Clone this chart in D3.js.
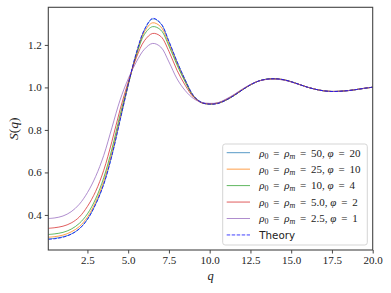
<!DOCTYPE html>
<html>
<head>
<meta charset="utf-8">
<script src="https://cdnjs.cloudflare.com/ajax/libs/d3/7.8.5/d3.min.js"></script>
<style>
    body { margin: 0; background: #fff; }
    svg { display: block; }
</style>
</head>
<body>
<svg id="canvas"></svg>
<script>
let qValues = [0.1, 0.5, 1.0, 1.5, 2.0, 2.5, 3.0, 3.5, 4.0, 4.5, 5.0, 5.5, 6.0, 6.5, 7.0, 7.5, 8.0, 8.5, 9.0, 9.5, 10.0,
    10.5, 11.0, 11.5, 12.0, 12.5, 13.0, 13.5, 14.0, 14.5, 15.0, 15.5, 16.0, 16.5, 17.0, 17.5, 18.0, 18.5, 19.0, 19.5, 20.0]

let s50 = [0.287, 0.290, 0.297, 0.310, 0.335, 0.380, 0.450, 0.545, 0.680, 0.845, 1.010, 1.160, 1.270, 1.322, 1.300, 1.215, 1.120, 1.035, 0.962, 0.930, 0.922,
    0.925, 0.940, 0.962, 0.988, 1.012, 1.030, 1.039, 1.041, 1.037, 1.027, 1.014, 1.001, 0.991, 0.984, 0.981, 0.982, 0.985, 0.990, 0.996, 1.001]
let s25 = [0.295, 0.298, 0.305, 0.320, 0.345, 0.390, 0.460, 0.558, 0.693, 0.855, 1.012, 1.155, 1.262, 1.304, 1.285, 1.205, 1.113, 1.030, 0.960, 0.929, 0.922,
    0.925, 0.940, 0.962, 0.988, 1.012, 1.030, 1.039, 1.041, 1.037, 1.027, 1.014, 1.001, 0.991, 0.984, 0.981, 0.982, 0.985, 0.990, 0.996, 1.001]
let s10 = [0.308, 0.311, 0.318, 0.333, 0.360, 0.405, 0.475, 0.575, 0.710, 0.870, 1.015, 1.150, 1.250, 1.286, 1.270, 1.195, 1.105, 1.025, 0.958, 0.928, 0.922,
    0.926, 0.941, 0.963, 0.989, 1.012, 1.030, 1.039, 1.040, 1.036, 1.027, 1.014, 1.001, 0.991, 0.984, 0.981, 0.982, 0.985, 0.990, 0.996, 1.001]
let s5 = [0.337, 0.340, 0.347, 0.362, 0.390, 0.440, 0.510, 0.610, 0.745, 0.895, 1.025, 1.140, 1.220, 1.254, 1.240, 1.170, 1.080, 1.010, 0.955, 0.928, 0.923,
    0.927, 0.943, 0.965, 0.990, 1.013, 1.030, 1.038, 1.040, 1.036, 1.026, 1.014, 1.001, 0.991, 0.984, 0.981, 0.982, 0.985, 0.990, 0.996, 1.001]
let s25b = [0.383, 0.386, 0.395, 0.415, 0.450, 0.505, 0.580, 0.680, 0.810, 0.940, 1.040, 1.120, 1.180, 1.207, 1.190, 1.120, 1.040, 0.985, 0.948, 0.930, 0.925,
    0.928, 0.945, 0.967, 0.992, 1.014, 1.030, 1.038, 1.039, 1.035, 1.026, 1.013, 1.001, 0.991, 0.984, 0.981, 0.982, 0.985, 0.990, 0.996, 1.001]
let theory = [0.285, 0.288, 0.295, 0.309, 0.334, 0.379, 0.449, 0.544, 0.679, 0.845, 1.012, 1.163, 1.273, 1.325, 1.302, 1.217, 1.121, 1.035, 0.962, 0.929, 0.921,
    0.924, 0.940, 0.962, 0.988, 1.012, 1.030, 1.039, 1.041, 1.037, 1.027, 1.014, 1.001, 0.991, 0.984, 0.981, 0.982, 0.985, 0.990, 0.996, 1.001]

let xTicks = [2.5, 5.0, 7.5, 10.0, 12.5, 15.0, 17.5, 20.0]
let yTicks = [0.4, 0.6, 0.8, 1.0, 1.2]

// legend labels: [rho, phi]
let seriesLabels = [["50", "20"], ["25", "10"], ["10", "4"], ["5.0", "2"], ["2.5", "1"]]
let seriesColors = ["#1f77b4", "#ff7f0e", "#2ca02c", "#d62728", "#9467bd"]
let seriesValues = [s50, s25, s10, s5, s25b]

let width = 391
let height = 293
let plotLeft = 48.3, plotRight = 372.7, plotTop = 7.3, plotBottom = 250

let canvas = d3.select("#canvas")
    .attr("width", width)
    .attr("height", height)

let xScale = d3.scaleLinear().domain([0.1, 20]).range([plotLeft, plotRight])
let yScale = d3.scaleLinear().domain([0.235, 1.377]).range([plotBottom, plotTop])

let serif = "'Liberation Serif', 'DejaVu Serif', serif"

let line = d3.line()
    .x((d) => xScale(d[0]))
    .y((d) => yScale(d[1]))
    .curve(d3.curveCatmullRom.alpha(0.5))

let plot = canvas.append("g")

seriesValues.forEach((vals, i) => {
    plot.append("path")
        .datum(qValues.map((q, j) => [q, vals[j]]))
        .attr("d", line)
        .attr("fill", "none")
        .attr("stroke", seriesColors[i])
        .attr("stroke-opacity", 0.75)
        .attr("stroke-width", 1)
})

plot.append("path")
    .datum(qValues.map((q, j) => [q, theory[j]]))
    .attr("d", line)
    .attr("fill", "none")
    .attr("stroke", "#0000ff")
    .attr("stroke-opacity", 0.75)
    .attr("stroke-width", 1)
    .attr("stroke-dasharray", "3.5,1.5")

// axes
let xAxis = d3.axisBottom(xScale).tickValues(xTicks).tickFormat(d3.format(".1f")).tickSize(3.5).tickPadding(3)
let yAxis = d3.axisLeft(yScale).tickValues(yTicks).tickFormat(d3.format(".1f")).tickSize(3.5).tickPadding(3)

let gx = canvas.append("g")
    .attr("transform", "translate(0," + plotBottom + ")")
    .call(xAxis)
let gy = canvas.append("g")
    .attr("transform", "translate(" + plotLeft + ",0)")
    .call(yAxis)

;[gx, gy].forEach((g) => {
    g.select(".domain").remove()
    g.selectAll("line").attr("stroke", "#333").attr("stroke-width", 0.9)
    g.selectAll("text")
        .attr("font-family", serif)
        .attr("font-size", "11px")
        .attr("fill", "#222")
})

// frame
canvas.append("rect")
    .attr("x", plotLeft)
    .attr("y", plotTop)
    .attr("width", plotRight - plotLeft)
    .attr("height", plotBottom - plotTop)
    .attr("fill", "none")
    .attr("stroke", "#444")
    .attr("stroke-width", 1.1)

// axis labels
canvas.append("text")
    .attr("x", (plotLeft + plotRight) / 2)
    .attr("y", 280)
    .attr("text-anchor", "middle")
    .attr("font-family", serif)
    .attr("font-style", "italic")
    .attr("font-size", "12.5px")
    .attr("fill", "#222")
    .text("q")

let yLabel = canvas.append("text")
    .attr("transform", "translate(17.5," + ((plotTop + plotBottom) / 2) + ") rotate(-90)")
    .attr("text-anchor", "middle")
    .attr("font-family", serif)
    .attr("font-size", "13.5px")
    .attr("fill", "#222")
yLabel.append("tspan").attr("font-style", "italic").text("S")
yLabel.append("tspan").text("(")
yLabel.append("tspan").attr("font-style", "italic").text("q")
yLabel.append("tspan").text(")")

// legend
let legend = canvas.append("g")

legend.append("rect")
    .attr("x", 222.7)
    .attr("y", 144)
    .attr("width", 144.6)
    .attr("height", 101)
    .attr("rx", 2.5)
    .attr("fill", "#fff")
    .attr("fill-opacity", 0.8)
    .attr("stroke", "#d0d0d0")
    .attr("stroke-width", 0.9)

let rowY = (i) => 152.7 + i * 16.45

seriesLabels.forEach((lab, i) => {
    let y = rowY(i)
    legend.append("line")
        .attr("x1", 226.7).attr("x2", 250)
        .attr("y1", y).attr("y2", y)
        .attr("stroke", seriesColors[i])
        .attr("stroke-opacity", 0.75)
        .attr("stroke-width", 1)

    let t = legend.append("text")
        .attr("x", 259.3)
        .attr("y", y + 3.8)
        .attr("font-family", serif)
        .attr("font-size", "11px")
        .attr("fill", "#222")
    t.append("tspan").attr("font-style", "italic").text("ρ")
    t.append("tspan").attr("font-size", "8px").attr("dy", 2).text("0")
    t.append("tspan").attr("dy", -2).attr("dx", 2).text(" = ")
    t.append("tspan").attr("dx", 2).attr("font-style", "italic").text("ρ")
    t.append("tspan").attr("font-size", "8px").attr("font-style", "italic").attr("dy", 2).text("m")
    t.append("tspan").attr("dy", -2).attr("dx", 2).text(" = ")
    t.append("tspan").attr("dx", 2).text(lab[0] + ", ")
    t.append("tspan").attr("font-style", "italic").text("φ")
    t.append("tspan").attr("dx", 2).text(" = ")
    t.append("tspan").attr("dx", 2).text(lab[1])
})

let ty = rowY(5)
legend.append("line")
    .attr("x1", 226.7).attr("x2", 250)
    .attr("y1", ty).attr("y2", ty)
    .attr("stroke", "#0000ff")
    .attr("stroke-opacity", 0.75)
    .attr("stroke-width", 1)
    .attr("stroke-dasharray", "3.5,1.5")
legend.append("text")
    .attr("x", 259.3)
    .attr("y", ty + 3.8)
    .attr("font-family", "'DejaVu Sans', sans-serif")
    .attr("font-size", "10.3px")
    .attr("fill", "#222")
    .text("Theory")
</script>
</body>
</html>
